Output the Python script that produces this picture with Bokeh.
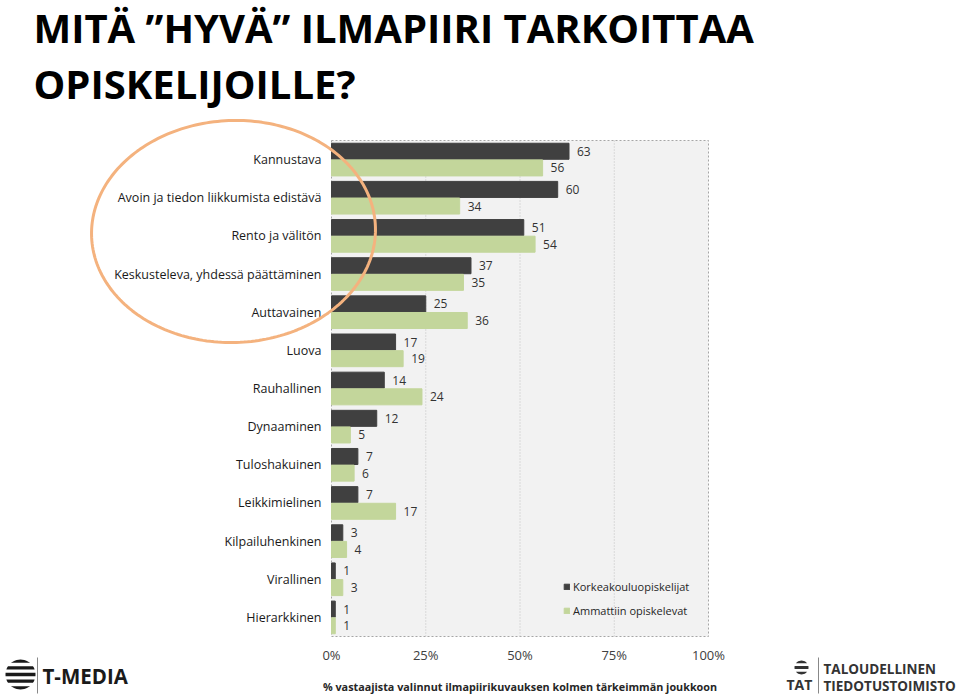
import numpy as np
from bokeh.plotting import figure
from bokeh.models import (Range1d, Label, PolyAnnotation, Legend, LegendItem,
                          FixedTicker, ColumnDataSource)
from bokeh.transform import dodge
from bokeh.core.properties import value
from bokeh.embed import file_html
from bokeh.resources import INLINE

# ---------------- data ----------------
categories = [
    "Kannustava",
    "Avoin ja tiedon liikkumista edistävä",
    "Rento ja välitön",
    "Keskusteleva, yhdessä päättäminen",
    "Auttavainen",
    "Luova",
    "Rauhallinen",
    "Dynaaminen",
    "Tuloshakuinen",
    "Leikkimielinen",
    "Kilpailuhenkinen",
    "Virallinen",
    "Hierarkkinen",
]
korkeakoulu = [63, 60, 51, 37, 25, 17, 14, 12, 7, 7, 3, 1, 1]
ammatti = [56, 34, 54, 35, 36, 19, 24, 5, 6, 17, 4, 3, 1]
series_names = ["Korkeakouluopiskelijat", "Ammattiin opiskelevat"]
x_ticks = [0, 25, 50, 75, 100]
x_tick_labels = ["0%", "25%", "50%", "75%", "100%"]
x_title = "% vastaajista valinnut ilmapiirikuvauksen kolmen tärkeimmän joukkoon"
title_lines = ["MITÄ ”HYVÄ” ILMAPIIRI TARKOITTAA", "OPISKELIJOILLE?"]

# ---------------- layout ----------------
W, H = 959, 697
FL, FR, FT, FB = 331, 708, 140, 636      # chart area in canvas pixels
FONT = "Open Sans"
DARK = "#404040"
GREEN = "#c3d69b"

n = len(categories)
xpx = (FR - FL) / 100.0
band = (FB - FT) / n
x_range = Range1d(-FL / xpx, 100 + (W - FR) / xpx)
y_range = Range1d(-0.5 - (H - FB) / band, n - 0.5 + FT / band)

pos = list(range(n - 1, -1, -1))
src = ColumnDataSource(dict(
    pos=pos, cat=categories, k=korkeakoulu, a=ammatti,
    kl=[str(v) for v in korkeakoulu], al=[str(v) for v in ammatti],
))

p = figure(width=W, height=H, x_range=x_range, y_range=y_range, title=None,
           output_backend="svg", toolbar_location=None, min_border=0,
           x_axis_location="below", y_axis_location="left")
p.background_fill_color = "white"
p.border_fill_color = "white"
p.outline_line_color = None
p.grid.visible = False

# plot area background and dashed border
p.quad(left=[x_ticks[0]], right=[x_ticks[-1]], bottom=[-0.5], top=[n - 0.5],
       fill_color="#f2f2f2", line_color="#a6a6a6", line_dash="2 2", line_width=1)
# vertical grid lines
inner = x_ticks[1:-1]
p.segment(x0=inner, x1=inner, y0=[-0.5] * len(inner), y1=[n - 0.5] * len(inner),
          line_color="#c0c0c0", line_dash="1 2", line_width=1)

off = 0.218
r1 = p.hbar(y=dodge("pos", off), right="k", left=0, height=0.42, color=DARK, source=src)
r2 = p.hbar(y=dodge("pos", -off), right="a", left=0, height=0.42, color=GREEN, source=src)
p.text(x="k", y=dodge("pos", off), text="kl", source=src,
       x_offset=8, text_baseline="middle", text_font=value(FONT),
       text_font_size="12px", text_color="#333333")
p.text(x="a", y=dodge("pos", -off), text="al", source=src,
       x_offset=8, text_baseline="middle", text_font=value(FONT),
       text_font_size="12px", text_color="#333333")

# axes fixed at the chart area edges
xa = p.xaxis[0]
xa.fixed_location = -0.5
xa.bounds = (x_ticks[0], x_ticks[-1])
xa.ticker = FixedTicker(ticks=x_ticks)
xa.major_label_overrides = {t: l for t, l in zip(x_ticks, x_tick_labels)}
xa.axis_line_color = None
xa.major_tick_line_color = None
xa.minor_tick_line_color = None
xa.major_tick_out = 0
xa.major_tick_in = 0
xa.major_label_standoff = 9
xa.major_label_text_font = FONT
xa.major_label_text_font_size = "13px"
xa.major_label_text_color = "#404040"
xa.axis_label = x_title
xa.axis_label_text_font = FONT
xa.axis_label_text_font_style = "bold"
xa.axis_label_text_font_size = "10.8px"
xa.axis_label_text_color = "#262626"
xa.axis_label_standoff = 12

ya = p.yaxis[0]
ya.fixed_location = 0
ya.ticker = FixedTicker(ticks=pos)
ya.major_label_overrides = {pp: c for pp, c in zip(pos, categories)}
ya.axis_line_color = None
ya.major_tick_line_color = None
ya.minor_tick_line_color = None
ya.major_tick_out = 0
ya.major_tick_in = 0
ya.major_label_standoff = 10
ya.major_label_text_font = FONT
ya.major_label_text_font_size = "12.5px"
ya.major_label_text_color = "#1a1a1a"

legend = Legend(items=[LegendItem(label=series_names[0], renderers=[r1]),
                       LegendItem(label=series_names[1], renderers=[r2])],
                location=(563, H - 618), orientation="vertical",
                glyph_width=7, glyph_height=7, label_standoff=3,
                label_text_font=FONT, label_text_font_size="11px",
                label_text_color="#262626", label_height=16, spacing=8,
                padding=0, margin=0, background_fill_alpha=0, border_line_alpha=0)
p.add_layout(legend)


# ---------- decorations (canvas pixel positions) ----------
def text(X, Y, s, size, color, bold=True):
    # Y = desired baseline in canvas pixels (from top)
    yb = Y - 0.44 * size
    p.add_layout(Label(x=X, y=H - yb, x_units="screen", y_units="screen", text=s,
                       text_font=FONT, text_font_style="bold" if bold else "normal",
                       text_font_size=f"{size}px", text_color=color,
                       text_baseline="alphabetic"))


def poly(xs, ys, **kw):
    p.add_layout(PolyAnnotation(xs=list(xs), ys=[H - y for y in ys],
                                xs_units="screen", ys_units="screen", **kw))


for line, base in zip(title_lines, [45, 101]):
    text(33, base, line, 40, "#000000")

# orange ellipse around the first items (slightly tilted)
t = np.linspace(0, 2 * np.pi, 240)
ang = np.deg2rad(-2.0)
ux, uy = 142 * np.cos(t), 111 * np.sin(t)
poly(233 + ux * np.cos(ang) - uy * np.sin(ang), 231 + ux * np.sin(ang) + uy * np.cos(ang),
     fill_alpha=0, line_color="#f4b27e", line_alpha=1, line_width=3)


def globe(cx, cy, r, k, color):
    b = 2 * r / (2 * k - 1)
    for j in range(k):
        y0 = cy - r + j * 2 * b
        ys = np.linspace(y0, y0 + b, 8)
        half = np.sqrt(np.clip(r ** 2 - (ys - cy) ** 2, 0, None))
        poly(list(cx - half) + list((cx + half)[::-1]), list(ys) + list(ys[::-1]),
             fill_color=color, fill_alpha=1, line_alpha=0)


def vline(X, Y0, Y1, color):
    poly([X - 0.5, X + 0.5, X + 0.5, X - 0.5], [Y0, Y0, Y1, Y1],
         fill_color=color, fill_alpha=1, line_alpha=0)


# T-MEDIA logo
globe(20, 674, 15, 5, "#1a1a1a")
vline(37, 657, 693, "#888888")
text(42, 685, "T-MEDIA", 20.5, "#1a1a1a")

# TAT logo
globe(801, 667, 7, 3, "#333333")
text(786, 690, "TAT", 14, "#333333")
vline(818, 657, 693, "#888888")
text(823, 674, "TALOUDELLINEN", 13.5, "#333333")
text(823, 691, "TIEDOTUSTOIMISTO", 13.5, "#333333")

open("out.html", "w").write(file_html(p, INLINE))
